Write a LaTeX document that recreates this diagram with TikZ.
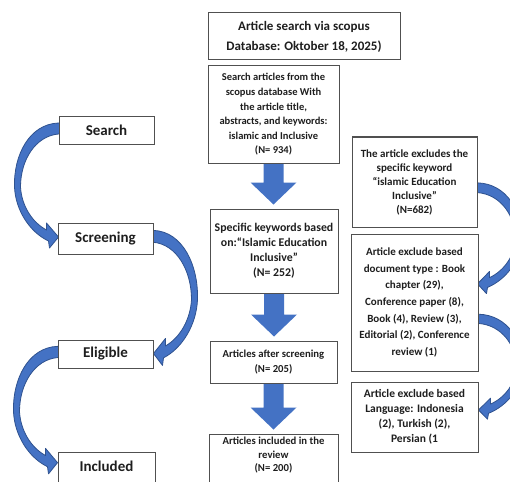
\documentclass[tikz,border=0pt]{standalone}
\usepackage{fontspec}
\setmainfont{Carlito}
\usetikzlibrary{calc}
\pgfdeclarelayer{background}
\pgfsetlayers{background,main}
\definecolor{arrowblue}{HTML}{4472C4}
\definecolor{arrowedge}{HTML}{2F528F}
\definecolor{boxgray}{HTML}{505050}
\definecolor{txt}{HTML}{1E1E1E}
\tikzset{
  box/.style={draw=boxgray, line width=1pt, fill=white, inner sep=0pt, align=center, text=txt,
    font=\bfseries\fontsize{10.5}{14.6}\selectfont},
  bodytext/.style={inner sep=0pt, align=center, text=txt, font=\bfseries\fontsize{10.5}{14.6}\selectfont},
  stagebox/.style={box, font=\bfseries\fontsize{15}{17}\selectfont},
  curvearrow/.style={fill=arrowblue, draw=arrowedge, line width=0.8pt, line join=round},
  curvy/.pic={
    \path[curvearrow] (3,-7.5) -- (0,-7.5) .. controls (-29,-6.5) and (-45,24.5) .. (-44,56.5)
      .. controls (-43,79.5) and (-29,101.5) .. (-10,110.5) -- (-9,117.5) -- (0,106.5)
      -- (-12,92.5) -- (-12,99.5) .. controls (-27,91.5) and (-37,74.5) .. (-38,56.5)
      .. controls (-38,29.5) and (-23,5.5) .. (0,3.5) -- (3,3.5) -- cycle;
  }
}
\newcommand\blockdown[2]{%
  \fill[arrowblue] let \p1=(#1.south), \p2=(#2.north) in
    (\x1-10pt,\y1+2pt) -- (\x1+10pt,\y1+2pt) -- (\x1+10pt,\y2+26pt) -- (\x1+23pt,\y2+26pt)
    -- (\x1,\y2+4pt) -- (\x1-23pt,\y2+26pt) -- (\x1-10pt,\y2+26pt) -- cycle;}
\begin{document}
\begin{tikzpicture}[x=1pt,y=-1pt]
\clip (0,0) rectangle (510,481);

% centre column
\node[box, minimum width=192pt, minimum height=47pt, font=\bfseries\fontsize{13}{20}\selectfont]
  (top) at (304,36.5) {Article search via scopus\\Database: Oktober 18, 2025)};
\node[box, minimum width=131pt, minimum height=97pt] (search) at (273.5,114.5)
  {Search articles from the\\scopus database With\\the article title,\\abstracts, and keywords:\\islamic and Inclusive\\(N= 934)};
\node[box, minimum width=128pt, minimum height=84pt, font=\bfseries\fontsize{11.8}{15}\selectfont] (keywords) at (274,251)
  {Specific keywords based\\on:“Islamic Education\\Inclusive”\\(N= 252)};
\node[box, minimum width=127pt, minimum height=42pt, font=\bfseries\fontsize{10.7}{15}\selectfont] (screened) at (273.5,362)
  {Articles after screening\\(N= 205)};
\node[box, minimum width=129pt, minimum height=56pt] (included) at (273.5,462) {};
\node[bodytext, anchor=north, font=\bfseries\fontsize{10.7}{13.5}\selectfont] (includedtext) at (273.5,437)
  {Articles included in the\\review\\(N= 200)};

% right column
\node[box, minimum width=125pt, minimum height=90pt, font=\bfseries\fontsize{11}{14}\selectfont] (ex1) at (414.5,182)
  {The article excludes the\\specific keyword\\“islamic Education\\Inclusive”\\(N=682)};
\node[box, minimum width=127pt, minimum height=137pt, font=\bfseries\fontsize{11}{16.6}\selectfont] (ex2) at (414.5,302.5)
  {Article exclude based\\document type : Book\\chapter (29),\\Conference paper (8),\\Book (4), Review (3),\\Editorial (2), Conference\\review (1)};
\node[box, minimum width=127pt, minimum height=70pt, font=\bfseries\fontsize{11.5}{15}\selectfont] (ex3) at (414.5,417)
  {Article exclude based\\Language: Indonesia\\(2), Turkish (2),\\Persian (1};

% left column
\node[stagebox, minimum width=95pt, minimum height=27pt] (stSearch) at (106.5,130.5) {Search};
\node[stagebox, minimum width=95pt, minimum height=31pt] (stScreen) at (105.5,238.5) {Screening};
\node[stagebox, minimum width=95pt, minimum height=28pt] (stElig) at (105.5,354) {Eligible};
\node[stagebox, minimum width=97pt, minimum height=38pt] (stIncl) at (106.5,471) {};
\node[bodytext, font=\bfseries\fontsize{15}{17}\selectfont] (stIncltext) at (106.5,466) {Included};

\begin{pgfonlayer}{background}
  \fill[white] (0,0) rectangle (510,481);
  \blockdown{search}{keywords}
  \blockdown{keywords}{screened}
  \blockdown{screened}{included}
  \pic at (stSearch.west) {curvy};
  \pic[xscale=-1, yscale=1.08] at (stScreen.east) {curvy};
  \pic[yscale=1.02] at (stElig.west) {curvy};
  \pic[xscale=-1, yscale=0.886] at ($(ex1.east)+(0,7.5)$) {curvy};
  \pic[xscale=-1, yscale=0.84] at ($(ex2.east)+(0,18)$) {curvy};
\end{pgfonlayer}
\end{tikzpicture}
\end{document}
